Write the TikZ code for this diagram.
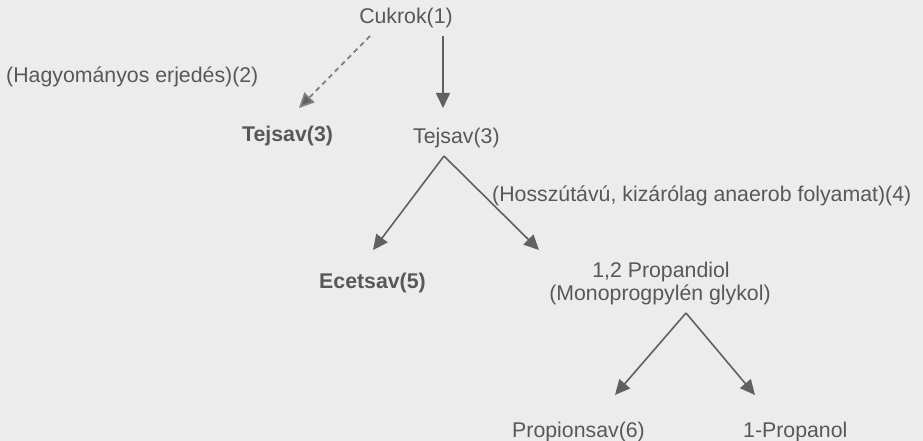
\documentclass[tikz,border=0pt]{standalone}
\usepackage{fontspec}
\setmainfont{Liberation Sans}
\usetikzlibrary{arrows.meta}
\definecolor{paper}{RGB}{236,236,236}
\definecolor{ink}{RGB}{88,88,88}
\definecolor{lineink}{RGB}{96,96,96}
\definecolor{dashink}{RGB}{128,128,128}
\tikzset{
  lbl/.style={inner sep=0pt, text=ink, font=\fontsize{21.3}{25}\selectfont},
  lblb/.style={lbl, font=\fontsize{21.3}{25}\selectfont\bfseries},
  arr/.style={draw=lineink, line width=1.6pt, -{Triangle[length=15pt,width=14pt]}},
  darr/.style={draw=dashink, line width=1.8pt, dash pattern=on 5pt off 4pt,
    -{Triangle[length=15pt,width=14pt,fill=lineink]}}
}
\begin{document}
\begin{tikzpicture}[x=1pt,y=-1pt]
  % canvas
  \fill[paper] (0,0) rectangle (923,441);
  \useasboundingbox (0,0) rectangle (923,441);

  % labels (positioned by baseline)
  \node[lbl, anchor=base] (cukrok) at (406,24) {Cukrok(1)};
  \node[lbl, anchor=base west] (hagy) at (6,83) {(Hagyományos erjedés)(2)};
  \node[lblb, anchor=base west] (tejB) at (242,142) {Tejsav(3)};
  \node[lbl, anchor=base west] (tejN) at (413,143) {Tejsav(3)};
  \node[lbl, anchor=base west] (hossz) at (492,201) {(Hosszútávú, kizárólag anaerob folyamat)(4)};
  \node[lblb, anchor=base west] (ecet) at (319,288) {Ecetsav(5)};
  \node[lbl, anchor=base] (prop1) at (661,277) {1,2 Propandiol};
  \node[lbl, anchor=base] (prop2) at (660,300) {(Monoprogpylén glykol)};
  \node[lbl, anchor=base west] (propion) at (512,437) {Propionsav(6)};
  \node[lbl, anchor=base west] (propanol) at (743,437) {1-Propanol};

  % connectors
  \draw[darr] ([shift={(-36,12)}]cukrok.base) -- ([shift={(57,-34)}]tejB.base west);
  \draw[arr] ([shift={(37,12)}]cukrok.base) -- ([shift={(30,-35)}]tejN.base west);
  \draw[arr] ([shift={(31,13)}]tejN.base west) -- ([shift={(54,-38)}]ecet.base west);
  \draw[arr] ([shift={(31,13)}]tejN.base west) -- ([shift={(-122,-27)}]prop1.base);
  \draw[arr] ([shift={(26,13)}]prop2.base) -- ([shift={(103,-42)}]propion.base west);
  \draw[arr] ([shift={(26,13)}]prop2.base) -- ([shift={(12,-42)}]propanol.base west);
\end{tikzpicture}
\end{document}
